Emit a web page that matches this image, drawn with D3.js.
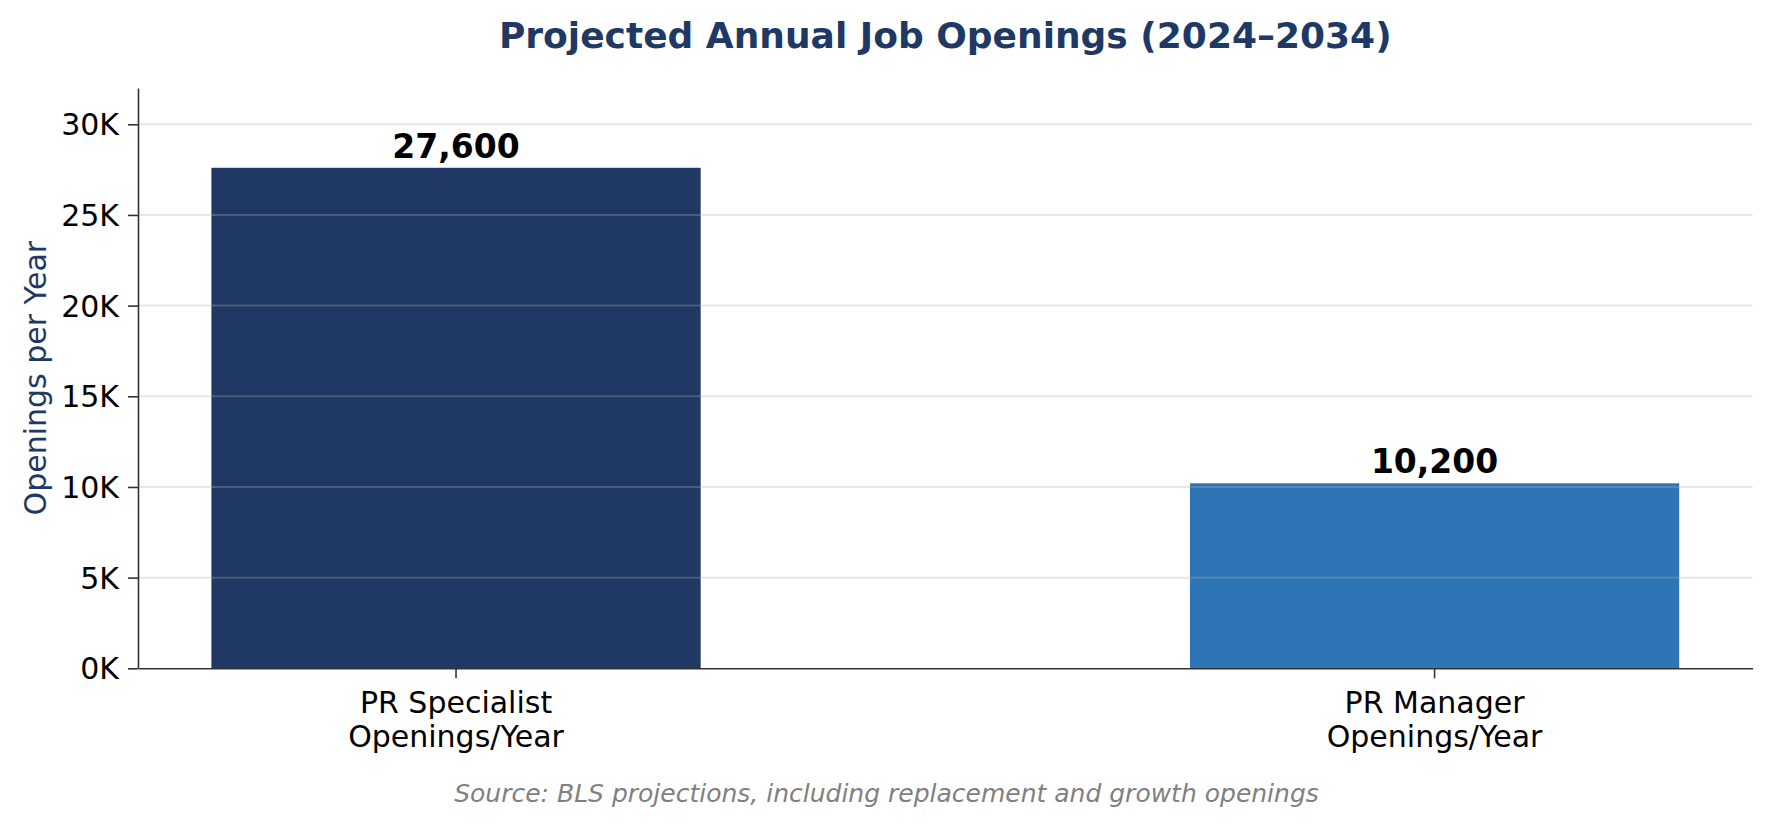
<!DOCTYPE html>
<html>
<head>
<meta charset="utf-8">
<script src="https://cdn.jsdelivr.net/npm/d3@7"></script>
<style>
  body { margin: 0; background: #fff; }
  text { font-family: "DejaVu Sans", sans-serif; }
</style>
</head>
<body>
<div id="chart"></div>
<script>
// data
const categories = ["PR Specialist\nOpenings/Year", "PR Manager\nOpenings/Year"];
const values = [27600, 10200];
const barColors = ["#203864", "#2e75b6"];
const yTicks = [0, 5000, 10000, 15000, 20000, 25000, 30000];

const W = 1773, H = 827;
const margin = {top: 88, left: 138};

const svg = d3.select("#chart")
    .append("svg")
    .attr("width", W)
    .attr("height", H);

const g = svg.append("g")
    .attr("transform", `translate(${margin.left}, ${margin.top})`);

// plot area: x axis runs to 1752.6, baseline at 668.3
const plotW = 1752.6 - margin.left;
const plotH = 668.3 - margin.top;

// scales
const x = d3.scaleBand()
    .domain(categories)
    .range([0, plotW])
    .paddingInner(0.5)
    .paddingOuter(0.075);

const y = d3.scaleLinear()
    .domain([0, 32000])
    .range([plotH, 0]);

// bars
g.selectAll("rect.bar")
    .data(values)
    .join("rect")
    .attr("class", "bar")
    .attr("x", (d, i) => x(categories[i]))
    .attr("y", d => y(d))
    .attr("width", x.bandwidth())
    .attr("height", d => plotH - y(d))
    .style("fill", (d, i) => barColors[i]);

// grid, drawn on top of bars like the original
g.append("g")
    .selectAll("line")
    .data(yTicks.slice(1))
    .join("line")
    .attr("x1", 0)
    .attr("x2", plotW)
    .attr("y1", d => y(d))
    .attr("y2", d => y(d))
    .style("stroke", "#b0b0b0")
    .style("stroke-opacity", 0.3)
    .style("stroke-width", 2);

// Y axis
const yAxis = g.append("g")
    .call(d3.axisLeft(y)
        .tickValues(yTicks)
        .tickFormat(d => (d / 1000) + "K")
        .tickSize(10)
        .tickPadding(9)
        .tickSizeOuter(0));
yAxis.select(".domain").style("stroke", "#333").style("stroke-width", 1.6);
yAxis.selectAll(".tick line").style("stroke", "#333").style("stroke-width", 1.6);
yAxis.selectAll(".tick text")
    .style("font-size", "30px")
    .style("fill", "#000")
    .attr("dy", "0.35em");

// X axis
const xAxis = g.append("g")
    .attr("transform", `translate(0, ${plotH})`)
    .call(d3.axisBottom(x).tickSize(10).tickSizeOuter(0).tickFormat(""));
xAxis.select(".domain").style("stroke", "#333").style("stroke-width", 1.6);
xAxis.selectAll(".tick line").style("stroke", "#333").style("stroke-width", 1.6);

// multi-line category labels
xAxis.selectAll(".tick")
    .append("text")
    .style("font-size", "30px")
    .style("fill", "#000")
    .attr("text-anchor", "middle")
    .selectAll("tspan")
    .data(d => d.split("\n"))
    .join("tspan")
    .attr("x", 0)
    .attr("y", (d, i) => 45 + i * 34)
    .text(d => d);

// value labels
g.selectAll("text.val")
    .data(values)
    .join("text")
    .attr("class", "val")
    .attr("x", (d, i) => x(categories[i]) + x.bandwidth() / 2)
    .attr("y", d => y(d) - 10)
    .attr("text-anchor", "middle")
    .style("font-size", "33px")
    .style("font-weight", "bold")
    .style("fill", "#000")
    .text(d => d3.format(",")(d));

// Y axis label
svg.append("text")
    .attr("transform", `translate(46, ${margin.top + plotH / 2}) rotate(-90)`)
    .attr("text-anchor", "middle")
    .style("font-size", "30px")
    .style("fill", "#203864")
    .text("Openings per Year");

// title
svg.append("text")
    .attr("x", margin.left + plotW / 2)
    .attr("y", 48)
    .attr("text-anchor", "middle")
    .style("font-size", "36px")
    .style("font-weight", "bold")
    .style("fill", "#203864")
    .text("Projected Annual Job Openings (2024–2034)");

// source note
svg.append("text")
    .attr("x", W / 2)
    .attr("y", 802)
    .attr("text-anchor", "middle")
    .style("font-size", "25px")
    .style("font-style", "italic")
    .style("fill", "#808080")
    .text("Source: BLS projections, including replacement and growth openings");
</script>
</body>
</html>
